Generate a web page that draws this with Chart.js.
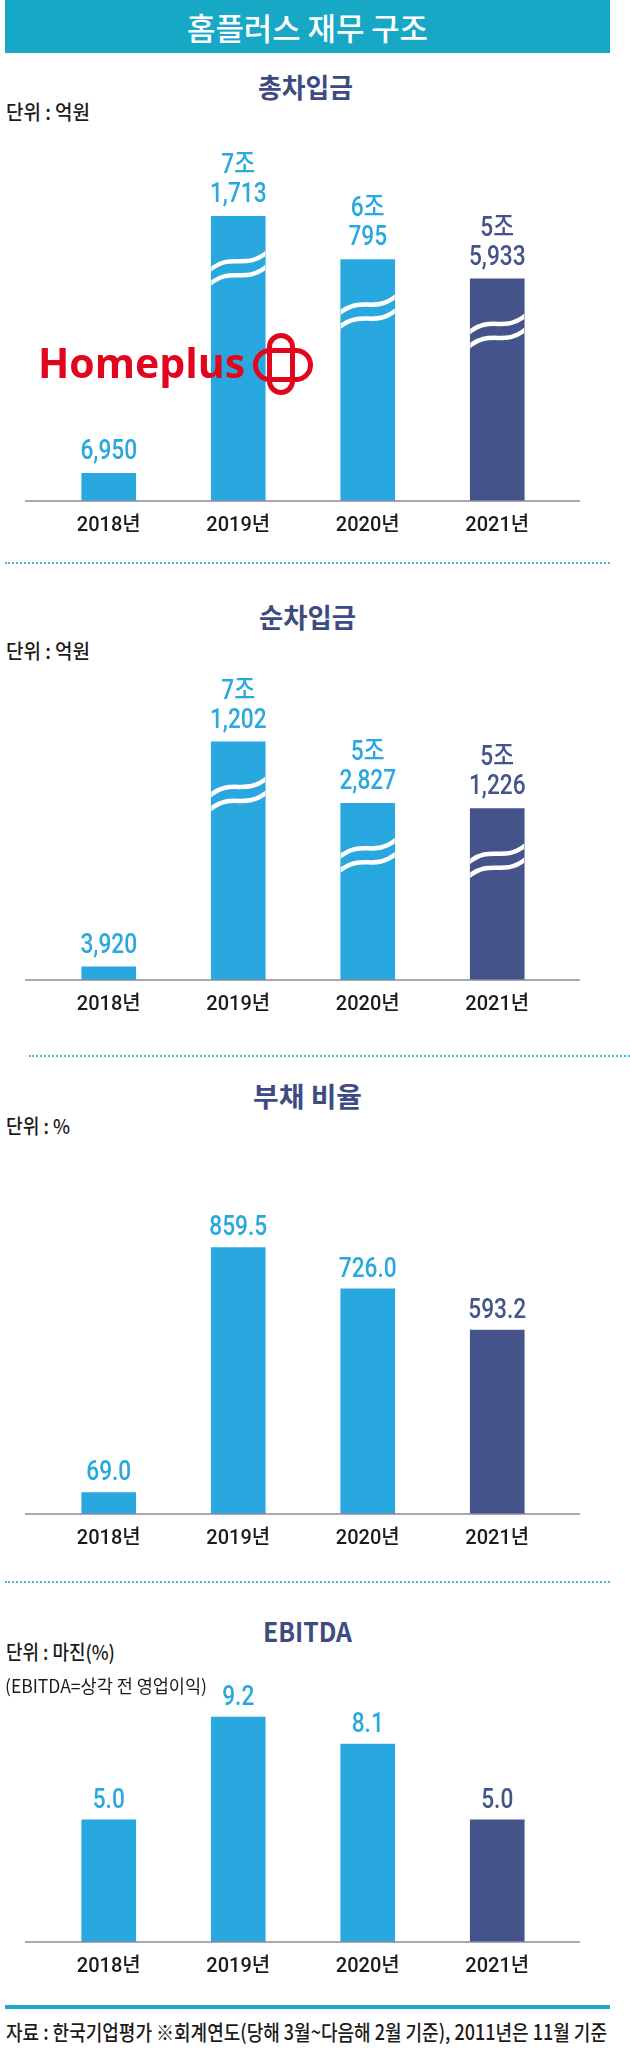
<!DOCTYPE html>
<html><head><meta charset="utf-8">
<script src="https://cdn.jsdelivr.net/npm/chart.js@4.4.1/dist/chart.umd.min.js"></script>
<style>
html,body{margin:0;padding:0;background:#fff;}
body{width:630px;height:2056px;position:relative;overflow:hidden;font-family:"Noto Sans CJK KR","Noto Sans",sans-serif;}
.t{position:absolute;white-space:nowrap;transform-origin:0 50%;z-index:3;}
.cv{position:absolute;left:0;width:630px;z-index:1;}
.dot{position:absolute;height:0;border-top:2px dotted #4FB7CC;}
</style></head><body>
<div style="position:absolute;left:5px;top:0;width:605px;height:53px;background:#16A8C5;z-index:0"></div>
<div class="dot" style="left:5px;top:562px;width:605px"></div>
<div class="dot" style="left:29px;top:1055px;width:601px"></div>
<div class="dot" style="left:5px;top:1581px;width:605px"></div>
<div style="position:absolute;left:5px;top:2005px;width:605px;height:4px;background:#1DA9C6"></div>

<canvas id="c1" class="cv"></canvas>
<canvas id="c2" class="cv"></canvas>
<canvas id="c3" class="cv"></canvas>
<canvas id="c4" class="cv"></canvas>

<svg style="position:absolute;left:0;top:0;z-index:4" width="630" height="420">
  <text x="38" y="378" font-family="'Open Sans', Roboto, sans-serif" font-weight="700" font-size="41" fill="#E1061E">Homeplus</text>
  <rect x="269.5" y="335.5" width="23" height="57" rx="11.5" ry="11.5" fill="none" stroke="#E1061E" stroke-width="5"/>
  <rect x="255.5" y="350.5" width="55" height="29" rx="14.5" ry="14.5" fill="none" stroke="#E1061E" stroke-width="5"/>
</svg>

<script>
// ---- data ----
const years = ['2018년', '2019년', '2020년', '2021년'];
const totalDebt = [6950, 71713, 60795, 55933];      // 총차입금 (억원)
const netDebt = [3920, 71202, 52827, 51226];        // 순차입금 (억원)
const debtRatio = [69.0, 859.5, 726.0, 593.2];      // 부채 비율 (%)
const ebitdaMargin = [5.0, 9.2, 8.1, 5.0];          // EBITDA 마진 (%)

// ---- style ----
const LIGHT = '#29A8E0', NAVY = '#44548B';
const barColors = [LIGHT, LIGHT, LIGHT, NAVY];

const texts = [
  {s:'홈플러스 재무 구조', cx:307.5, cy:27.5, w:241, size:31, weight:500, color:'#ffffff'},
  {s:'총차입금', cx:305.5, cy:87, w:95, size:27, weight:700, color:'#3E4B82'},
  {s:'단위 : 억원', x:6, cy:112, w:84, size:20, weight:500, color:'#1E1A1B'},
  {s:'순차입금', cx:307.5, cy:617, w:97, size:27, weight:700, color:'#3E4B82'},
  {s:'단위 : 억원', x:6, cy:651, w:84, size:20, weight:500, color:'#1E1A1B'},
  {s:'부채 비율', cx:307.5, cy:1096, w:109, size:27, weight:700, color:'#3E4B82'},
  {s:'단위 : %', x:6, cy:1126, w:64, size:20, weight:500, color:'#1E1A1B'},
  {s:'EBITDA', cx:307.5, cy:1631, w:89, size:27, weight:700, color:'#3E4B82'},
  {s:'단위 : 마진(%)', x:6, cy:1652, w:109, size:20, weight:500, color:'#1E1A1B'},
  {s:'(EBITDA=상각 전 영업이익)', x:5, cy:1686, w:202, size:18, weight:400, color:'#1E1A1B'},
  {s:'자료 : 한국기업평가 ※회계연도(당해 3월~다음해 2월 기준), 2011년은 11월 기준', x:6, cy:2032, w:601, size:21, weight:500, color:'#1E1A1B'}
];

const els = texts.map(t => {
  const e = document.createElement('span');
  e.className = 't';
  e.textContent = t.s;
  e.style.fontSize = t.size + 'px';
  e.style.fontWeight = t.weight;
  e.style.color = t.color;
  e.style.lineHeight = Math.round(t.size * 1.3) + 'px';
  e.style.top = (t.cy - t.size * 0.65) + 'px';
  document.body.appendChild(e);
  return e;
});
function fitTexts() {
  texts.forEach((t, i) => {
    const e = els[i];
    e.style.transform = 'none';
    const nat = e.getBoundingClientRect().width;
    const sx = t.w / nat;
    const left = (t.cx !== undefined) ? t.cx - t.w / 2 : t.x;
    e.style.left = left + 'px';
    e.style.transform = 'scaleX(' + sx + ')';
  });
}
fitTexts();
if (document.fonts && document.fonts.ready) document.fonts.ready.then(fitTexts);

const fmtEok = v => v >= 10000 ? [Math.floor(v / 10000) + '조', (v % 10000).toLocaleString('en-US')] : [v.toLocaleString('en-US')];
const fmt1 = v => [v.toFixed(1)];

function drawBreak(ctx, bar, c) {
  const L = bar.x - bar.width / 2, R = bar.x + bar.width / 2, w = R - L;
  ctx.save();
  ctx.beginPath(); ctx.rect(L, c - 30, w, 60); ctx.clip();
  ctx.strokeStyle = '#ffffff'; ctx.lineWidth = 4.5;
  for (const d of [-7, 7]) {
    ctx.beginPath();
    ctx.moveTo(L - 2, c + d + 9);
    ctx.bezierCurveTo(L + w * 0.4, c + d - 10, L + w * 0.6, c + d + 10, R + 2, c + d - 9);
    ctx.stroke();
  }
  ctx.restore();
}

const deco = {
  id: 'deco',
  afterDatasetsDraw(chart, args, opts) {
    const ctx = chart.ctx;
    const ys = chart.scales.y;
    const y0 = ys.getPixelForValue(0);
    ctx.save();
    ctx.strokeStyle = '#8A8AA2'; ctx.lineWidth = 1.5;
    ctx.beginPath(); ctx.moveTo(25, y0); ctx.lineTo(580, y0); ctx.stroke();
    ctx.restore();
    const meta = chart.getDatasetMeta(0);
    const vals = chart.data.datasets[0].data;
    meta.data.forEach((el, i) => {
      const bar = el.getProps(['x', 'y', 'base', 'width'], true);
      const v = vals[i];
      if (opts.breaks && v >= opts.breakMin) drawBreak(ctx, bar, bar.y + 52);
      const lines = opts.fmt(v);
      const n = lines.length;
      ctx.save();
      ctx.fillStyle = barColors[i];
      ctx.font = '500 27px Roboto, "Noto Sans CJK KR", sans-serif';
      ctx.textAlign = 'center'; ctx.textBaseline = 'middle';
      lines.forEach((ln, j) => {
        const y = bar.y - opts.gap - (n - 1 - j) * 29;
        ctx.save(); ctx.translate(bar.x, y); ctx.scale(0.84, 1); ctx.fillText(ln, 0, 0); ctx.restore();
      });
      ctx.restore();
    });
  }
};

function makeChart(id, top, height, values, yMax, decoOpts) {
  const cv = document.getElementById(id);
  cv.width = 630; cv.height = height;
  cv.style.top = top + 'px'; cv.style.height = height + 'px';
  return new Chart(cv, {
    type: 'bar',
    data: {labels: years, datasets: [{data: values, backgroundColor: barColors, barThickness: 54, borderWidth: 0}]},
    options: {
      responsive: false, animation: false, events: [],
      layout: {padding: {left: 44, right: 68, top: 0, bottom: 0}},
      plugins: {legend: {display: false}, tooltip: {enabled: false}, deco: decoOpts},
      scales: {
        x: {
          grid: {display: false, drawTicks: false}, border: {display: false},
          ticks: {color: '#1E1A1B', padding: 13, font: {family: 'Roboto, "Noto Sans CJK KR", sans-serif', size: 20, weight: '500'}},
          afterFit: s => { s.height = 45; }
        },
        y: {display: false, min: 0, max: yMax}
      }
    },
    plugins: [deco]
  });
}

makeChart('c1', 150, 396, totalDebt, 88400, {fmt: fmtEok, gap: 21, breaks: true, breakMin: 10000});
makeChart('c2', 665, 360, netDebt, 94200, {fmt: fmtEok, gap: 21, breaks: true, breakMin: 10000});
makeChart('c3', 1150, 409, debtRatio, 1174, {fmt: fmt1, gap: 19, breaks: false});
makeChart('c4', 1680, 307, ebitdaMargin, 10.72, {fmt: fmt1, gap: 19, breaks: false});
</script>
</body></html>
